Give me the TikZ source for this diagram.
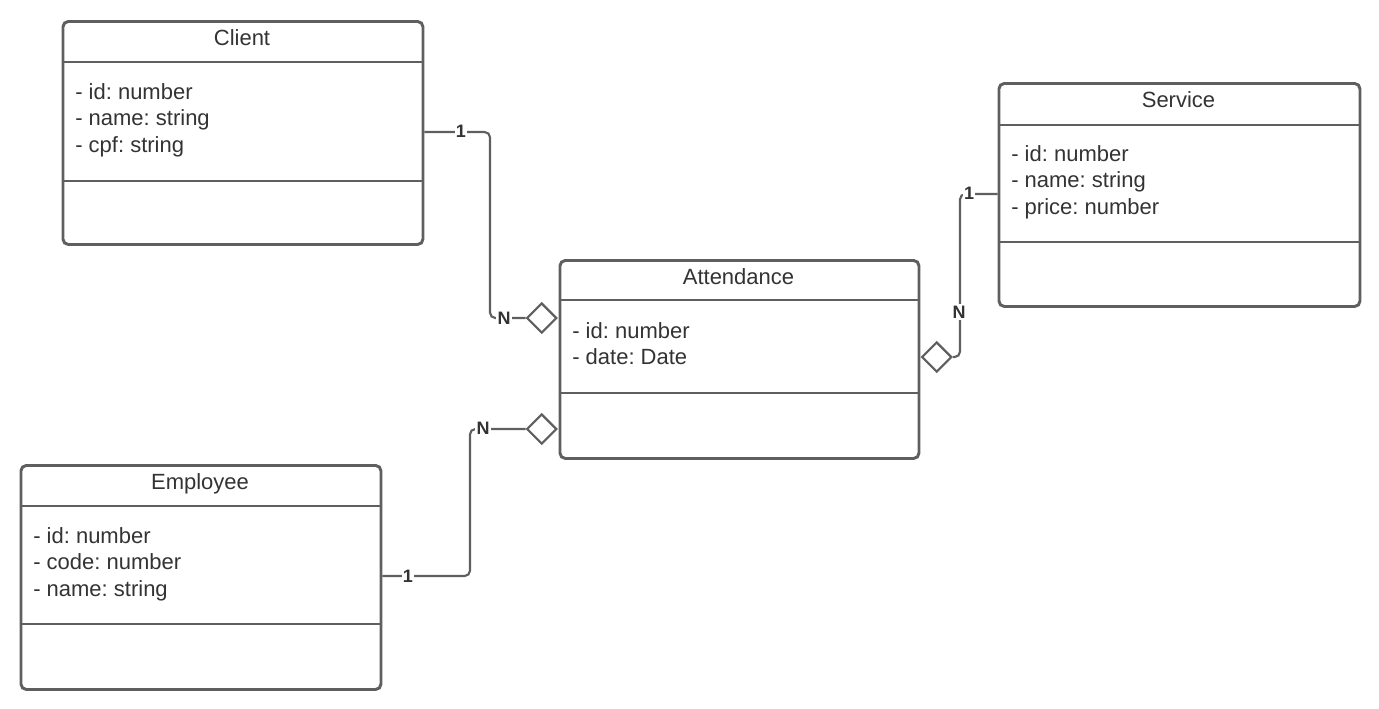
\documentclass[tikz,border=0pt]{standalone}
\usepackage{fontspec}
\setmainfont{Liberation Sans}
\usetikzlibrary{shapes.geometric}
\definecolor{ln}{HTML}{5F5F5F}
\definecolor{tx}{HTML}{333333}
\frenchspacing
\begin{document}
\begin{tikzpicture}[x=0.75pt,y=-0.75pt,
 classbox/.style={draw=ln, line width=2.2pt, rounded corners=4pt, inner sep=0pt, anchor=north west, minimum width=270pt},
 sepline/.style={draw=ln, line width=2.2pt},
 attr/.style={anchor=base west, inner sep=0pt, text=tx, font=\fontsize{16.5}{20}\selectfont},
 title/.style={anchor=base, inner sep=0pt, text=tx, font=\fontsize{16.5}{20}\selectfont},
 conn/.style={draw=ln, line width=1.6pt, rounded corners=4pt},
 mult/.style={fill=white, inner sep=1pt, text=tx, font=\fontsize{13.5}{15}\selectfont\bfseries},
 agg/.style={diamond, draw=ln, line width=1.6pt, fill=white, minimum width=22.5pt, minimum height=22.5pt, inner sep=0pt}
]
\useasboundingbox (0,0) rectangle (1379,708);

% Client
\node[classbox, minimum height=167.25pt] (client) at (61.5,20) {};
\draw[sepline] (client.west |- 0,62) -- (client.east |- 0,62);
\draw[sepline] (client.west |- 0,181) -- (client.east |- 0,181);
\node[title] (clientT) at (242,45) {Client};
\node[attr] (c1) at (75,99) {- id: number};
\node[attr] (c2) at (75,125.5) {- name: string};
\node[attr] (c3) at (75,152) {- cpf: string};

% Service
\node[classbox, minimum width=270.75pt, minimum height=167.25pt] (service) at (997.5,82) {};
\draw[sepline] (service.west |- 0,125) -- (service.east |- 0,125);
\draw[sepline] (service.west |- 0,242) -- (service.east |- 0,242);
\node[title] (serviceT) at (1178.5,107) {Service};
\node[attr] (s1) at (1011,161) {- id: number};
\node[attr] (s2) at (1011,187.5) {- name: string};
\node[attr] (s3) at (1011,214) {- price: number};

% Attendance
\node[classbox, minimum width=269.25pt, minimum height=148.5pt] (att) at (558.5,259) {};
\draw[sepline] (att.west |- 0,300) -- (att.east |- 0,300);
\draw[sepline] (att.west |- 0,393) -- (att.east |- 0,393);
\node[title] (attT) at (738.5,284) {Attendance};
\node[attr] (a1) at (572,338) {- id: number};
\node[attr] (a2) at (572,364.5) {- date: Date};

% Employee
\node[classbox, minimum height=168pt] (emp) at (19.5,464) {};
\draw[sepline] (emp.west |- 0,506) -- (emp.east |- 0,506);
\draw[sepline] (emp.west |- 0,624) -- (emp.east |- 0,624);
\node[title] (empT) at (200,489) {Employee};
\node[attr] (e1) at (33,543) {- id: number};
\node[attr] (e2) at (33,569.5) {- code: number};
\node[attr] (e3) at (33,596) {- name: string};

% aggregation diamonds
\node[agg] (aggc) at (541.7,318) {};
\node[agg] (agge) at (541.7,429) {};
\node[agg] (aggs) at (936.7,357) {};

% connectors
\draw[conn] (client.east |- 0,132) -- (490,132) -- (490,318) -- (aggc.west);
\draw[conn] (emp.east |- 0,576) -- (470,576) -- (470,429) -- (agge.west);
\draw[conn] (service.west |- 0,194) -- (960,194) -- (960,357) -- (aggs.east);

% multiplicities
\node[mult] (m1) at (461,131) {1};
\node[mult] (m2) at (504,318) {N};
\node[mult] (m3) at (408,576) {1};
\node[mult] (m4) at (483,428) {N};
\node[mult] (m5) at (969,193) {1};
\node[mult] (m6) at (959,312) {N};
\end{tikzpicture}
\end{document}
